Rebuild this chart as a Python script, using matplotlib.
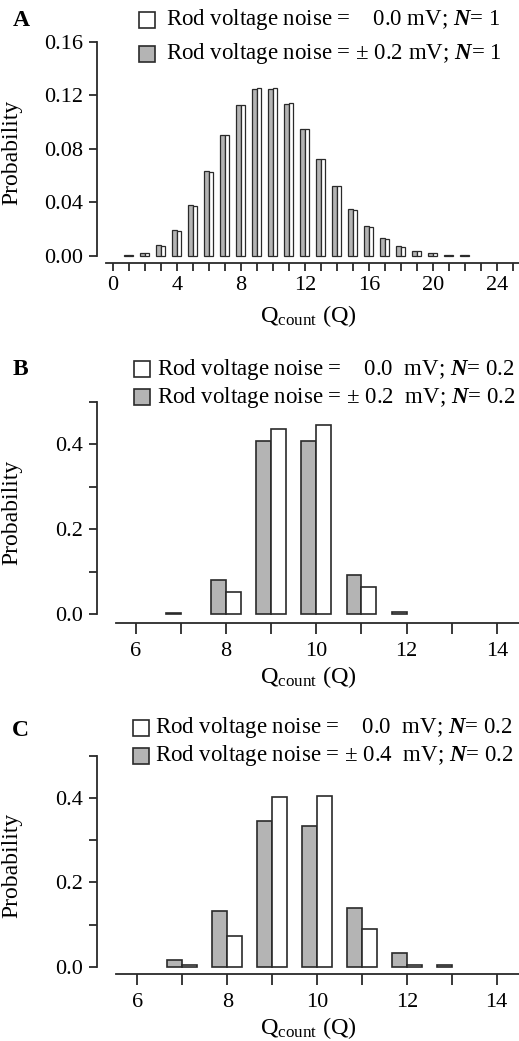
import matplotlib
matplotlib.use('Agg')
import matplotlib.pyplot as plt
from matplotlib.patches import Rectangle
import numpy as np

plt.rcParams['font.family'] = ['Liberation Serif', 'DejaVu Serif']
plt.rcParams['mathtext.fontset'] = 'custom'
plt.rcParams['mathtext.rm'] = 'Liberation Serif'
plt.rcParams['mathtext.it'] = 'Liberation Serif:italic'
plt.rcParams['mathtext.bf'] = 'Liberation Serif:bold'
plt.rcParams['mathtext.bfit'] = 'Liberation Serif:bold:italic'

# panel A, N = 1
qA = np.arange(1, 23)
a_noise = [0.0005, 0.0023, 0.0079, 0.0192, 0.0384, 0.0636, 0.0900, 0.1127, 0.1248, 0.1248, 0.1133,
           0.0946, 0.0727, 0.0522, 0.0354, 0.0224, 0.0132, 0.0073, 0.0038, 0.0019, 0.0009, 0.0004]
a_clean = [0.0005, 0.0023, 0.0075, 0.0186, 0.0376, 0.0627, 0.0900, 0.1127, 0.1252, 0.1252, 0.1140,
           0.0946, 0.0727, 0.0520, 0.0347, 0.0217, 0.0128, 0.0071, 0.0037, 0.0019, 0.0009, 0.0004]

# panel B, N = 0.2, noise 0.2 mV
qB_noise = [7, 8, 9, 10, 11, 12]
b_noise = [0.003, 0.080, 0.408, 0.408, 0.092, 0.004]
qB_clean = [8, 9, 10, 11]
b_clean = [0.052, 0.437, 0.445, 0.063]

# panel C, N = 0.2, noise 0.4 mV
qC_noise = [7, 8, 9, 10, 11, 12, 13]
c_noise = [0.017, 0.133, 0.345, 0.334, 0.139, 0.032, 0.004]
qC_clean = [7, 8, 9, 10, 11, 12]
c_clean = [0.004, 0.074, 0.402, 0.406, 0.089, 0.004]

legA = ['Rod voltage noise =    0.0 mV; $\\mathbfit{N}$= 1',
        'Rod voltage noise = \u00b1 0.2 mV; $\\mathbfit{N}$= 1']
legB = ['Rod voltage noise =    0.0  mV; $\\mathbfit{N}$= 0.2',
        'Rod voltage noise = \u00b1 0.2  mV; $\\mathbfit{N}$= 0.2']
legC = ['Rod voltage noise =    0.0  mV; $\\mathbfit{N}$= 0.2',
        'Rod voltage noise = \u00b1 0.4  mV; $\\mathbfit{N}$= 0.2']

GREY = '#b4b4b4'
EDGE = '#2a2a2a'
W, H = 519, 1041
FS = 16

fig = plt.figure(figsize=(W / 100, H / 100), dpi=100)


def px(x, y):
    return x / W, 1 - y / H


def make_axes(top, bottom, left=97):
    x0, y0 = px(left, bottom)
    x1, y1 = px(W, top)
    return fig.add_axes([x0, y0, x1 - x0, y1 - y0])


def style(ax, ytop, ylow, xlim, xb0, xpad=2):
    ax.set_ylim(ylow, ytop)
    ax.set_xlim(*xlim)
    ax.spines['top'].set_visible(False)
    ax.spines['right'].set_visible(False)
    ax.spines['left'].set_bounds(0, ytop)
    ax.spines['bottom'].set_bounds(xb0, xlim[1])
    for s in ('left', 'bottom'):
        ax.spines[s].set_linewidth(1.3)
        ax.spines[s].set_color(EDGE)
    ax.tick_params(direction='out', length=6, width=1.3, color=EDGE, labelsize=FS)
    ax.tick_params(axis='y', pad=4)
    ax.tick_params(axis='x', pad=3)
    ax.set_xlabel('Q$_{\\mathrm{count}}$ (Q)', fontsize=17.5, labelpad=xpad)
    ax.set_ylabel('Probability', fontsize=17)
    ax.yaxis.set_label_coords(-0.178, 0.5)


def legend(labels, xsq, xtext, ys, size=16):
    for lab, y, fc in zip(labels, ys, ['white', GREY]):
        x0, y0 = px(xsq, y + size / 2)
        fig.patches.append(Rectangle((x0, y0), size / W, size / H, transform=fig.transFigure,
                                     facecolor=fc, edgecolor=EDGE, linewidth=1.2))
        tx, ty = px(xtext, y)
        fig.text(tx, ty, lab, fontsize=16.5, ha='left', va='center')


# ---- A
ax = make_axes(41.7, 263)
wA = 0.28
ax.bar(qA - wA, a_noise, width=wA, align='edge', color=GREY, edgecolor=EDGE, linewidth=0.9)
ax.bar(qA, a_clean, width=wA, align='edge', color='white', edgecolor=EDGE, linewidth=0.9)
style(ax, 0.16, -0.0052, (-0.99, 25.39), -0.45, xpad=6)
ax.set_yticks([0, 0.04, 0.08, 0.12, 0.16])
ax.set_yticklabels(['0.00', '0.04', '0.08', '0.12', '0.16'])
ax.set_xticks(np.arange(0, 26))
ax.set_xticklabels([str(i) if i % 4 == 0 else '' for i in range(26)])
legend(legA, 139, 166, [19.5, 53.5])
fig.text(*px(13, 20), 'A', fontsize=17, fontweight='bold', ha='left', va='center')


def panel_bc(top, bottom, qn, vn, qc, vc, ylow, xlim, xb0):
    ax = make_axes(top, bottom)
    w = 0.33
    ax.bar(np.array(qn) - w, vn, width=w, align='edge', color=GREY, edgecolor=EDGE, linewidth=1.2)
    ax.bar(qc, vc, width=w, align='edge', color='white', edgecolor=EDGE, linewidth=1.2)
    style(ax, 0.5, ylow, xlim, xb0)
    ax.tick_params(axis='x', length=8, pad=6)
    ax.set_yticks(np.arange(0, 0.51, 0.1))
    ax.set_yticklabels(['0.0', '', '0.2', '', '0.4', ''])
    ax.set_xticks(np.arange(6, 15))
    ax.set_xticklabels([str(i) if i % 2 == 0 else '' for i in range(6, 15)])
    return ax


# ---- B
panel_bc(402, 622.7, qB_noise, b_noise, qB_clean, b_clean, -0.0205, (5.14, 14.49), 5.57)
legend(legB, 134, 157, [369, 397])
fig.text(*px(13, 370), 'B', fontsize=17, fontweight='bold', ha='left', va='center')

# ---- C
panel_bc(756, 974, qC_noise, c_noise, qC_clean, c_clean, -0.0173, (5.10, 14.50), 5.53)
legend(legC, 133, 155, [728, 756])
fig.text(*px(12, 730), 'C', fontsize=17, fontweight='bold', ha='left', va='center')

fig.savefig('out.png', dpi=100)
